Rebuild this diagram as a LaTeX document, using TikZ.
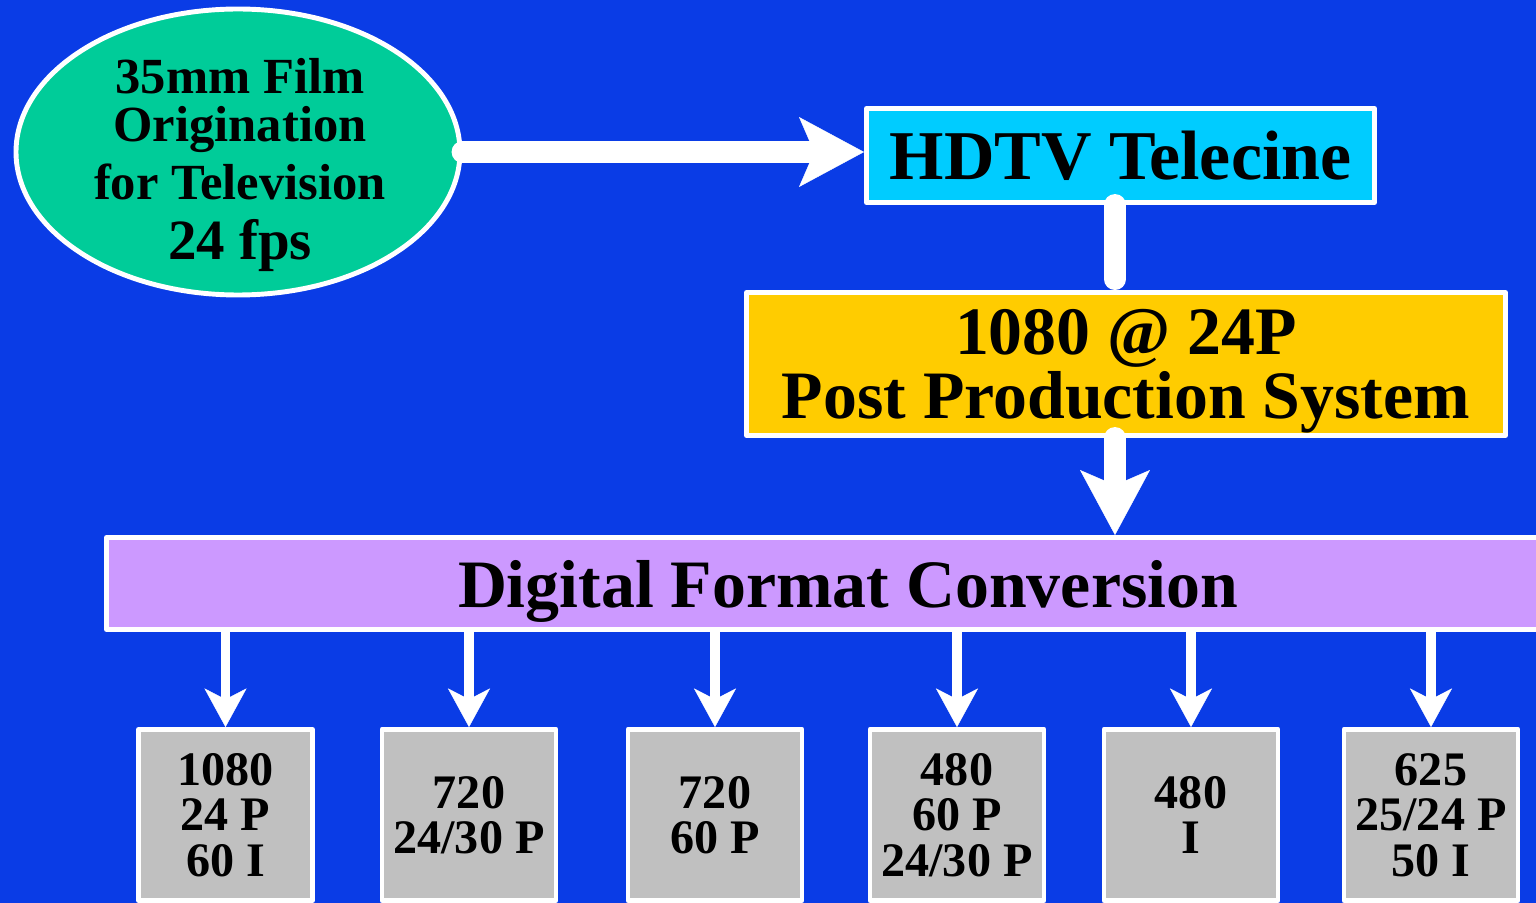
\documentclass[tikz,border=0pt]{standalone}
\usepackage{fontspec}
\setmainfont{Liberation Serif}
\usetikzlibrary{arrows.meta,shapes.geometric}
\definecolor{bgblue}{RGB}{10,60,230}
\definecolor{filmgreen}{RGB}{0,204,153}
\definecolor{telecyan}{RGB}{0,204,255}
\definecolor{postyellow}{RGB}{255,204,0}
\definecolor{convlilac}{RGB}{204,153,255}
\definecolor{fmtgray}{RGB}{192,192,192}
\tikzset{
  whitebox/.style={draw=white,line width=1.4pt,line join=round,inner sep=0pt,align=center},
  bigfont/.style={font=\bfseries\fontsize{19.3pt}{17pt}\selectfont,text depth=0pt},
  fatline/.style={draw=white,line width=6.2pt,line cap=round},
  bigarrow/.style={fatline,-{Stealth[length=18.5pt,width=19.9pt,inset=4.3pt,line width=0.1pt]}},
  smallarrow/.style={draw=white,line width=2.7pt,line cap=round,-{Stealth[length=11pt,width=12pt,inset=3.1pt,line width=0.1pt]}}
}
\begin{document}
\begin{tikzpicture}[x=0.1mm,y=-0.1mm]
  \path[use as bounding box,fill=bgblue] (0,0) rectangle (1536,903);
  \node[whitebox,ellipse,fill=filmgreen,minimum width=44.4mm,minimum height=28.6mm] (film) at (238,152) {};
  \node[align=center,font=\bfseries\fontsize{14.4pt}{12.8pt}\selectfont] (filmtext) at (240,165)
    {35mm Film\\[0.9pt]Origination\\[2.2pt]for Television\\[4.2pt]{\fontsize{16.2pt}{14.6pt}\selectfont 24 fps}};
  \node[whitebox,bigfont,font=\bfseries\fontsize{19.9pt}{17pt}\selectfont,fill=telecyan,minimum width=50.8mm,minimum height=9.4mm] (hdtv) at (1120.5,155.5) {HDTV Telecine};
  \node[whitebox,bigfont,fill=postyellow,minimum width=75.9mm,minimum height=14.3mm] (post) at (1126,364) {1080 @ 24P\\Post Production System};
  \node[whitebox,bigfont,fill=convlilac,minimum width=148.3mm,minimum height=9.2mm] (conv) at (848,583.5) {Digital Format Conversion};
  \coordinate (trunk) at (1115,0);
  \draw[bigarrow] (film.east) -- (film.east -| hdtv.west);
  \draw[fatline,shorten >=3.1pt] (hdtv.south -| trunk) -- (post.north -| trunk);
  \draw[bigarrow] (post.south -| trunk) -- (conv.north -| trunk);
  \foreach \xfmt/\txt [count=\i] in {225.5/{1080\\24 P\\60 I}, 469/{720\\24/30 P}, 715/{720\\60 P},
      957/{480\\60 P\\24/30 P}, 1191/{480\\I}, 1431/{625\\25/24 P\\50 I}} {
    \node[whitebox,fill=fmtgray,minimum width=17.4mm,minimum height=17.1mm,
      font=\bfseries\fontsize{13.7pt}{12.9pt}\selectfont] (fmt\i) at (\xfmt,815) {\txt};
    \draw[smallarrow] (fmt\i.north |- conv.south) -- (fmt\i.north);
  }
\end{tikzpicture}
\end{document}
